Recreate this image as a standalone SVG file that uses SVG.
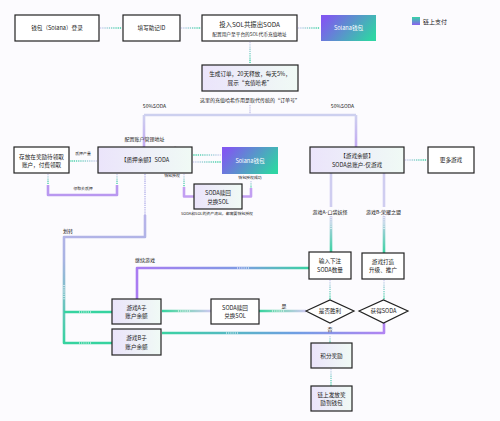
<svg xmlns="http://www.w3.org/2000/svg" width="500" height="421" viewBox="0 0 500 421">
<defs>
<linearGradient id="fillL" x1="0" y1="0" x2="1" y2="0"><stop offset="0" stop-color="#ebe4fb"/><stop offset="1" stop-color="#f0faf5"/></linearGradient>
<linearGradient id="sol" x1="0" y1="0.3" x2="1" y2="0.7"><stop offset="0" stop-color="#8059f0"/><stop offset="1" stop-color="#2fd4a4"/></linearGradient>
<linearGradient id="leg" x1="0" y1="0" x2="0" y2="1"><stop offset="0" stop-color="#36d4a6"/><stop offset="1" stop-color="#8a60ef"/></linearGradient>
<linearGradient id="cR" x1="0" y1="0" x2="1" y2="0"><stop offset="0" stop-color="#d4cff4"/><stop offset="1" stop-color="#34d19f"/></linearGradient>
<linearGradient id="cL" x1="1" y1="0" x2="0" y2="0"><stop offset="0" stop-color="#d4cff4"/><stop offset="1" stop-color="#34d19f"/></linearGradient>
<linearGradient id="cD" x1="0" y1="0" x2="0" y2="1"><stop offset="0" stop-color="#d4cff4"/><stop offset="1" stop-color="#34d19f"/></linearGradient>
<linearGradient id="lavV" x1="0" y1="0" x2="0" y2="1"><stop offset="0" stop-color="#cfd1ef"/><stop offset="1" stop-color="#c2a9f2"/></linearGradient>
<linearGradient id="gameV" x1="0" y1="0" x2="0" y2="1"><stop offset="0" stop-color="#cfcdf0"/><stop offset="1" stop-color="#3bd3a3"/></linearGradient>
<linearGradient id="huaz" x1="0" y1="0" x2="0" y2="1"><stop offset="0" stop-color="#b9b4ea"/><stop offset="0.35" stop-color="#a9b3e3"/><stop offset="1" stop-color="#36d39f"/></linearGradient>
<linearGradient id="jixu" x1="0" y1="0" x2="1" y2="0"><stop offset="0" stop-color="#a97bf2"/><stop offset="0.6" stop-color="#7f9be4"/><stop offset="1" stop-color="#3ad3a2"/></linearGradient>
<linearGradient id="low" x1="0" y1="0" x2="1" y2="0"><stop offset="0" stop-color="#3ad3a2"/><stop offset="0.6" stop-color="#6f9ee3"/><stop offset="1" stop-color="#b184f2"/></linearGradient>
<linearGradient id="lavTeal" x1="0" y1="0" x2="1" y2="0"><stop offset="0" stop-color="#36d3a0"/><stop offset="0.4" stop-color="#7cd6b8"/><stop offset="1" stop-color="#cdc8f1"/></linearGradient>
</defs>
<style>
text{font-family:"Noto Sans CJK SC","Noto Sans",sans-serif;fill:#222;text-anchor:middle}
.box{stroke:#222;stroke-width:1.2}
.w{fill:#fff}
.lf{fill:url(#fillL)}
.t{font-size:5.6px}
.s{font-size:3.9px}
.m{font-size:5px}
.c{fill:none;stroke-width:1.4;stroke-dasharray:1.3 0.9}
.th{fill:none;stroke-width:2.6;stroke-linejoin:round}
.dot{fill:none;stroke:#fff;stroke-width:1.1;stroke-dasharray:1 1.2}
</style>
<rect width="500" height="421" fill="#fcfbfe"/>

<g id="connectors">
<path class="c" stroke="url(#cR)" d="M100 28 L122 28.01"/>
<path class="c" stroke="url(#cR)" d="M181 28 L201 28.01"/>
<path class="c" stroke="url(#cR)" d="M298 28 L320 28.01"/>
<path class="c" stroke="url(#cD)" d="M250 42 L250.01 64"/>
<path class="c" stroke="#c9c8ec" d="M250 105 L250.01 114"/>
<path class="th" stroke="#cdd0ef" d="M144 115 L356 115.01"/>
<path class="th" stroke="url(#lavV)" d="M144 115 L144.01 147"/>
<path class="th" stroke="url(#lavV)" d="M356 115 L356.01 147"/>
<path class="c" stroke="url(#cL)" d="M97 161 L70 161.01"/>
<path class="c" stroke="url(#cD)" d="M48 174 L48.01 185"/>
<path class="c" stroke="url(#cD)" d="M117 174 L117.01 185"/>
<path class="th" stroke="#b998f0" d="M48 185 V195 H117 V185"/>
<path class="c" stroke="url(#cL)" d="M221 155 L193 155.01"/>
<path class="c" stroke="url(#cR)" d="M193 162 L221 162.01"/>
<path class="c" stroke="url(#cD)" d="M184 174 L184.01 187"/>
<path class="th" stroke="#c29ff2" d="M184 187 V196.5 H194"/>
<path class="c" stroke="url(#cD)" d="M251 181 L251.01 188"/>
<path class="th" stroke="#c29ff2" d="M251 188 V196.5 H242"/>
<path class="c" stroke="#b7b5ea" d="M145 174 L145.01 215"/>
<path class="th" stroke="url(#huaz)" d="M145 215 V237 H64 V343 H112"/>
<path class="th" stroke="#36d3a0" d="M64 312 H112"/>
<path class="dot" d="M64 285 V300 M79 312 H91 M79 343 H91"/>
<path class="c" stroke="url(#cR)" d="M405 160 L427 160.01"/>
<path class="th" stroke="#cfcdf0" d="M331 173 L331 207"/>
<path class="th" stroke="url(#gameV)" d="M331 216 L331.01 252"/>
<path class="th" stroke="#cfcdf0" d="M384 173 L384 207"/>
<path class="th" stroke="url(#gameV)" d="M384 216 L384.01 253"/>
<path class="dot" d="M331 217 V229 M384 217 V229"/>
<path class="c" stroke="url(#cD)" d="M330 280 L330.01 300"/>
<path class="c" stroke="url(#cD)" d="M384 280 L384.01 300"/>
<path class="th" stroke="url(#jixu)" d="M137 299 V268 H309"/>
<path class="dot" d="M237 268 H250"/>
<path class="th" stroke="url(#low)" d="M162 333 H384 V323"/>
<path class="dot" d="M226 333 H238"/>
<path class="th" stroke="url(#lavTeal)" d="M162 311 L211 311.01"/>
<path class="dot" d="M178 311 H191"/>
<path class="th" stroke="url(#lavTeal)" d="M259 311 L306 311.01"/>
<path class="dot" d="M272 311 H284"/>
<path class="c" stroke="url(#cD)" d="M330 336 L330.01 343"/>
<path class="c" stroke="url(#cD)" d="M331 369 L331.01 386"/>
</g>

<g id="labels">
<text class="m" x="250" y="101.5">这里的充值哈希作用是取代传统的“订单号”</text>
<text class="m" x="154.5" y="108">50%SODA</text>
<text class="m" x="342.5" y="108">50%SODA</text>
<text class="m" x="144.5" y="141">配置账户管理地址</text>
<text class="s" x="83" y="155">质押产量</text>
<text class="s" x="83" y="189.5">领取去质押</text>
<text class="s" x="171" y="149.5">SODA质押</text>
<text class="s" x="172" y="171">SODA赎回，</text>
<text class="s" x="172" y="177">钱包授权</text>
<text class="s" x="250" y="178.5">钱包授权成功</text>
<text class="s" x="217" y="214.5">SODA和SOL的资产流出，都需要钱包授权</text>
<text class="m" x="63" y="233" style="text-anchor:start">划转</text>
<text class="m" x="135" y="262" style="text-anchor:start">继续游戏</text>
<text class="m" x="330" y="214">游戏A-口袋妖怪</text>
<text class="m" x="383.5" y="214">游戏B-荣耀之盟</text>
<text class="m" x="284" y="307.5">是</text>
<text class="m" x="330" y="330.5">否</text>
</g>

<g id="n1"><rect class="box w" x="15" y="15" width="84" height="26"/><text class="t" x="57" y="30">钱包（Solana）登录</text></g>
<g id="n2"><rect class="box w" x="123" y="15" width="57" height="26"/><text class="t" x="151.5" y="30">填写助记ID</text></g>
<g id="n3"><rect class="box w" x="202" y="15" width="95" height="26"/><text x="249.5" y="26.5" style="font-size:6.4px">投入SOL共振出SODA</text><text x="249.5" y="35.5" style="font-size:4.7px">配置用户至平台的SOL代币充值地址</text></g>
<g id="n4"><rect x="321" y="15" width="55" height="26" fill="url(#sol)"/><text class="t" x="348.5" y="30" style="fill:#fff">Solana钱包</text></g>
<g id="legend"><rect x="412" y="17" width="8" height="8" fill="url(#leg)"/><text x="423" y="23.5" style="font-size:6px;text-anchor:start">链上支付</text></g>
<g id="n6"><rect class="box lf" x="202" y="65" width="96" height="26"/><text class="t" x="250" y="76">生成订单，20天释放，每天5%，</text><text class="t" x="250" y="84.5">展示“充值哈希”</text></g>
<g id="n7"><rect class="box lf" x="98" y="147" width="94" height="26"/><text class="t" x="145" y="162">【质押余额】SODA</text></g>
<g id="n8"><rect class="box w" x="14" y="147" width="55" height="26"/><text class="t" x="41.5" y="158.5">存放在奖励待领取</text><text class="t" x="41.5" y="166.5">账户，付费领取</text></g>
<g id="n9"><rect x="222" y="147" width="56" height="27" fill="url(#sol)"/><text class="t" x="250" y="162.5" style="fill:#fff">Solana钱包</text></g>
<g id="n10"><rect class="box lf" x="194" y="184" width="48" height="25"/><text class="t" x="218" y="195">SODA赎回</text><text class="t" x="218" y="203.5">兑换SOL</text></g>
<g id="n11"><rect class="box lf" x="310" y="147" width="94" height="26"/><text class="t" x="357" y="158">【游戏余额】</text><text class="t" x="357" y="166.5">SODA总账户-仅游戏</text></g>
<g id="n12"><rect class="box w" x="428" y="147" width="46" height="26"/><text class="t" x="451" y="162">更多游戏</text></g>
<g id="n13"><rect class="box w" x="309" y="252" width="42" height="27"/><text class="t" x="330" y="263">输入下注</text><text class="t" x="330" y="272">SODA数量</text></g>
<g id="n14"><rect class="box w" x="362" y="253" width="42" height="26"/><text class="t" x="383" y="263.5">游戏打造</text><text class="t" x="383" y="272">升级、推广</text></g>
<g id="d1"><polygon class="box w" points="306,311 330,300 354,311 330,323"/><text class="t" x="330" y="313">是否胜利</text></g>
<g id="d2"><polygon class="box w" points="359,311 383.5,300 408,311 383.5,323"/><text class="t" x="383.5" y="313">获得SODA</text></g>
<g id="n15"><rect class="box lf" x="311" y="343" width="41" height="25"/><text class="t" x="331.5" y="357.5">积分奖励</text></g>
<g id="n16"><rect class="box lf" x="311" y="386" width="41" height="25"/><text class="t" x="331.5" y="396.5">链上发放奖</text><text class="t" x="331.5" y="405">励到钱包</text></g>
<g id="n17"><rect class="box lf" x="112" y="299" width="49" height="25"/><text class="t" x="136.5" y="309.5">游戏A子</text><text class="t" x="136.5" y="318">账户余额</text></g>
<g id="n18"><rect class="box lf" x="112" y="329" width="49" height="26"/><text class="t" x="136.5" y="340">游戏B子</text><text class="t" x="136.5" y="348.5">账户余额</text></g>
<g id="n19"><rect class="box w" x="211" y="299" width="48" height="25"/><text class="t" x="235" y="309.5">SODA赎回</text><text class="t" x="235" y="318">兑换SOL</text></g>
</svg>
